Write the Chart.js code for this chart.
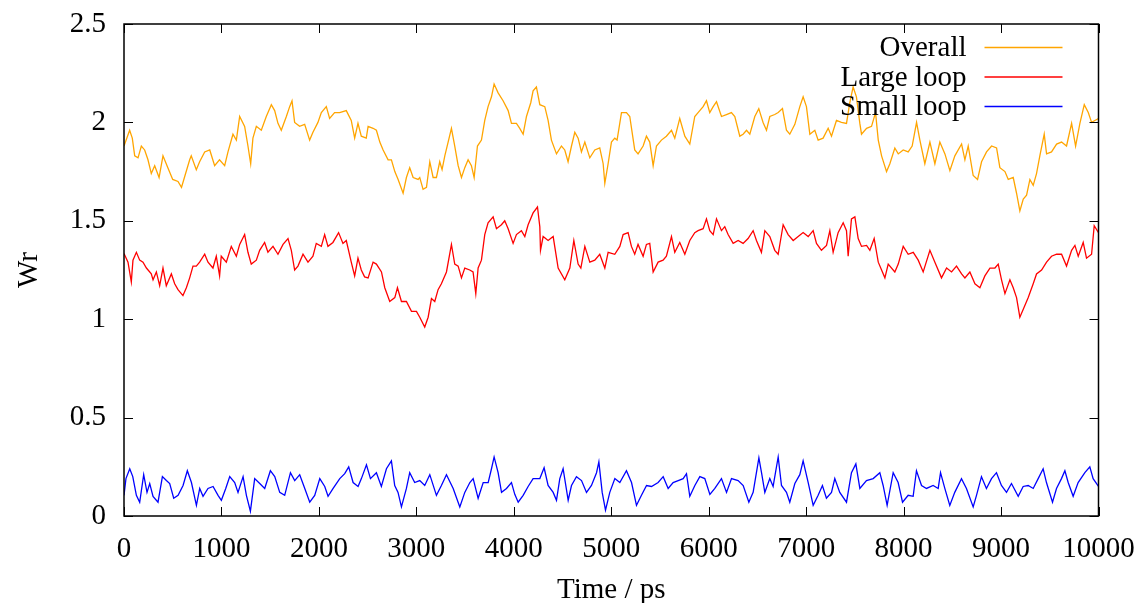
<!DOCTYPE html>
<html>
<head>
<meta charset="utf-8">
<script src="https://cdn.jsdelivr.net/npm/chart.js@4.4.1/dist/chart.umd.min.js"></script>
<style>
  html, body { margin: 0; padding: 0; background: #fff; }
  #wrap { width: 1136px; height: 603px; }
</style>
</head>
<body>
<div id="wrap"><canvas id="wr-chart" width="1136" height="603"></canvas></div>
<script>
// Writhe over time, three curves
const seriesNames = ['Overall', 'Large loop', 'Small loop'];
const seriesColors = ['#ffa500', '#ff0000', '#0000ff'];

const xTicks = [0, 1000, 2000, 3000, 4000, 5000, 6000, 7000, 8000, 9000, 10000];
const yTicks = [0, 0.5, 1, 1.5, 2, 2.5];

const overallTime = [0, 58, 85, 110, 144, 178, 212, 246, 280, 315, 360, 400, 450, 500, 554, 590, 620, 674, 690, 742, 776, 828, 880, 930, 980,
  1033, 1067, 1118, 1153, 1187, 1238, 1272, 1300, 1323, 1358, 1409, 1460, 1512, 1546, 1580, 1614, 1666, 1700, 1724, 1751, 1802, 1854, 1905, 1939, 1990,
  2025, 2076, 2110, 2161, 2213, 2281, 2332, 2367, 2401, 2435, 2486, 2505, 2556, 2590, 2625, 2659, 2710, 2744, 2779, 2813, 2864, 2898, 2932, 2967,
  3018, 3035, 3069, 3104, 3138, 3172, 3206, 3240, 3264, 3292, 3326, 3360, 3394, 3429, 3463, 3497, 3531, 3565, 3593, 3627, 3668, 3702, 3736, 3771, 3798, 3839, 3890, 3942, 3976,
  4027, 4061, 4096, 4130, 4174, 4198, 4232, 4267, 4318, 4352, 4386, 4438, 4489, 4523, 4557, 4592, 4626, 4660, 4694, 4729, 4780, 4831, 4882, 4917, 4934, 4968,
  5002, 5036, 5060, 5105, 5156, 5190, 5241, 5275, 5327, 5361, 5395, 5430, 5464, 5515, 5566, 5618, 5652, 5703, 5755, 5806, 5857, 5891, 5943, 5977,
  6011, 6046, 6080, 6131, 6182, 6233, 6268, 6319, 6353, 6388, 6422, 6473, 6514, 6558, 6593, 6627, 6678, 6713, 6757, 6798, 6832, 6884, 6935, 6969,
  7003, 7038, 7089, 7123, 7174, 7226, 7260, 7311, 7362, 7414, 7448, 7482, 7516, 7551, 7568, 7620, 7671, 7712, 7740, 7774, 7825, 7859, 7910, 7945, 7996,
  8047, 8088, 8133, 8167, 8218, 8270, 8321, 8372, 8424, 8475, 8526, 8595, 8629, 8663, 8714, 8759, 8800, 8851, 8903, 8954, 8988,
  9040, 9074, 9125, 9159, 9193, 9228, 9262, 9296, 9330, 9364, 9398, 9443, 9467, 9518, 9570, 9621, 9672, 9724, 9765, 9809, 9854, 9895, 9929, 10000];
const overall = [1.88, 1.96, 1.92, 1.83, 1.82, 1.88, 1.86, 1.81, 1.74, 1.78, 1.72, 1.83, 1.77, 1.71, 1.70, 1.67, 1.72, 1.81, 1.83, 1.76, 1.80, 1.85, 1.86, 1.78, 1.81,
  1.78, 1.85, 1.94, 1.91, 2.03, 1.98, 1.88, 1.79, 1.92, 1.98, 1.96, 2.03, 2.09, 2.06, 1.995, 1.96, 2.03, 2.08, 2.11, 2.00, 1.98, 1.99, 1.91, 1.95, 2.00,
  2.05, 2.08, 2.02, 2.05, 2.05, 2.06, 2.01, 1.92, 1.995, 1.93, 1.92, 1.98, 1.97, 1.96, 1.90, 1.86, 1.81, 1.81, 1.75, 1.71, 1.64, 1.72, 1.77, 1.72,
  1.71, 1.72, 1.66, 1.67, 1.80, 1.72, 1.72, 1.80, 1.76, 1.83, 1.90, 1.97, 1.88, 1.78, 1.72, 1.77, 1.81, 1.78, 1.72, 1.88, 1.91, 2.01, 2.08, 2.13, 2.195, 2.15, 2.11, 2.06, 1.995,
  1.995, 1.97, 1.94, 2.03, 2.10, 2.16, 2.18, 2.09, 2.08, 2.01, 1.91, 1.84, 1.88, 1.86, 1.80, 1.88, 1.95, 1.92, 1.85, 1.90, 1.82, 1.86, 1.87, 1.79, 1.69, 1.79,
  1.90, 1.92, 1.91, 2.05, 2.05, 2.03, 1.86, 1.84, 1.88, 1.93, 1.90, 1.78, 1.88, 1.91, 1.93, 1.96, 1.92, 2.02, 1.93, 1.89, 2.03, 2.05, 2.08, 2.11,
  2.05, 2.08, 2.105, 2.03, 2.04, 2.05, 2.03, 1.93, 1.94, 1.96, 1.94, 2.03, 2.07, 2.00, 1.96, 2.03, 2.04, 2.05, 2.07, 1.96, 1.94, 1.99, 2.08, 2.13,
  2.08, 1.94, 1.96, 1.91, 1.92, 1.97, 1.93, 2.01, 2.00, 1.995, 2.10, 2.18, 2.13, 1.995, 1.94, 1.97, 1.98, 2.05, 1.91, 1.83, 1.75, 1.79, 1.87, 1.84, 1.86,
  1.85, 1.88, 2.00, 1.91, 1.79, 1.90, 1.79, 1.90, 1.84, 1.755, 1.83, 1.89, 1.81, 1.88, 1.73, 1.71, 1.80, 1.85, 1.88, 1.87, 1.77,
  1.75, 1.71, 1.72, 1.64, 1.55, 1.61, 1.63, 1.71, 1.68, 1.74, 1.83, 1.94, 1.84, 1.85, 1.89, 1.90, 1.88, 1.995, 1.88, 1.995, 2.09, 2.05, 2.00, 2.02];

const largeTime = [0, 41, 75, 92, 127, 161, 195, 230, 280, 298, 332, 366, 400, 434, 486, 520, 554, 605, 640, 674, 708, 742, 776, 828, 862, 913, 947, 981, 998,
  1050, 1101, 1153, 1187, 1238, 1272, 1306, 1358, 1392, 1443, 1477, 1529, 1580, 1632, 1683, 1717, 1751, 1785, 1837, 1888, 1939, 1973,
  2025, 2059, 2093, 2144, 2202, 2247, 2281, 2332, 2367, 2401, 2435, 2469, 2505, 2556, 2590, 2642, 2676, 2727, 2779, 2806, 2847, 2898, 2950,
  3001, 3035, 3086, 3121, 3155, 3189, 3223, 3257, 3309, 3360, 3394, 3429, 3463, 3497, 3548, 3582, 3610, 3634, 3668, 3702, 3736, 3788, 3822, 3873, 3907, 3942, 3993,
  4027, 4078, 4113, 4147, 4198, 4243, 4267, 4274, 4301, 4352, 4404, 4455, 4523, 4575, 4616, 4660, 4688, 4729, 4780, 4831, 4882, 4934, 4968,
  5036, 5088, 5122, 5173, 5207, 5241, 5275, 5327, 5361, 5395, 5430, 5481, 5532, 5566, 5618, 5652, 5703, 5755, 5806, 5857, 5891, 5943, 5977,
  6011, 6046, 6080, 6131, 6165, 6199, 6251, 6302, 6353, 6404, 6456, 6490, 6541, 6576, 6627, 6678, 6713, 6764, 6815, 6867, 6918, 6969,
  7021, 7072, 7106, 7157, 7209, 7243, 7277, 7328, 7380, 7414, 7431, 7465, 7500, 7534, 7568, 7620, 7654, 7698, 7740, 7808, 7842, 7910, 7945, 7996,
  8047, 8099, 8150, 8201, 8270, 8321, 8389, 8441, 8492, 8543, 8595, 8629, 8680, 8732, 8783, 8834, 8886, 8937, 8971,
  9005, 9040, 9091, 9125, 9159, 9193, 9228, 9279, 9330, 9364, 9416, 9467, 9518, 9570, 9621, 9672, 9724, 9758, 9792, 9843, 9877, 9929, 9956, 10000];
const largeLoop = [1.334, 1.29, 1.19, 1.30, 1.34, 1.30, 1.29, 1.26, 1.23, 1.20, 1.24, 1.17, 1.26, 1.17, 1.23, 1.18, 1.15, 1.12, 1.16, 1.21, 1.27, 1.27, 1.29, 1.33, 1.29, 1.26, 1.32, 1.22, 1.32,
  1.29, 1.37, 1.32, 1.38, 1.43, 1.34, 1.28, 1.30, 1.35, 1.39, 1.34, 1.37, 1.33, 1.38, 1.41, 1.35, 1.25, 1.27, 1.33, 1.29, 1.32, 1.385,
  1.37, 1.43, 1.37, 1.39, 1.44, 1.385, 1.40, 1.29, 1.22, 1.31, 1.25, 1.215, 1.21, 1.29, 1.28, 1.24, 1.16, 1.09, 1.11, 1.16, 1.09, 1.09, 1.04,
  1.04, 1.01, 0.96, 1.01, 1.105, 1.09, 1.15, 1.18, 1.24, 1.38, 1.28, 1.27, 1.21, 1.26, 1.25, 1.24, 1.13, 1.26, 1.30, 1.43, 1.49, 1.52, 1.46, 1.48, 1.50, 1.46, 1.385,
  1.43, 1.45, 1.42, 1.48, 1.54, 1.57, 1.47, 1.35, 1.42, 1.40, 1.42, 1.26, 1.20, 1.26, 1.40, 1.28, 1.26, 1.37, 1.29, 1.30, 1.33, 1.26, 1.34,
  1.33, 1.37, 1.43, 1.44, 1.37, 1.33, 1.38, 1.32, 1.38, 1.385, 1.24, 1.29, 1.30, 1.32, 1.42, 1.34, 1.39, 1.33, 1.40, 1.44, 1.45, 1.46, 1.51,
  1.45, 1.43, 1.51, 1.45, 1.47, 1.43, 1.385, 1.40, 1.385, 1.41, 1.45, 1.40, 1.34, 1.45, 1.42, 1.35, 1.33, 1.48, 1.43, 1.40, 1.42, 1.44,
  1.42, 1.45, 1.385, 1.35, 1.375, 1.45, 1.34, 1.44, 1.49, 1.45, 1.32, 1.51, 1.52, 1.41, 1.37, 1.375, 1.35, 1.41, 1.29, 1.21, 1.28, 1.24, 1.28, 1.37,
  1.33, 1.34, 1.30, 1.24, 1.35, 1.29, 1.21, 1.26, 1.24, 1.27, 1.23, 1.21, 1.24, 1.18, 1.16, 1.22, 1.26, 1.26, 1.28,
  1.20, 1.13, 1.20, 1.16, 1.11, 1.01, 1.05, 1.11, 1.18, 1.23, 1.25, 1.29, 1.32, 1.33, 1.33, 1.27, 1.35, 1.375, 1.32, 1.39, 1.31, 1.33, 1.475, 1.44];

const smallTime = [0, 20, 59, 90, 127, 161, 202, 236, 264, 298, 349, 394, 435, 469, 510, 555, 606, 650, 692, 743, 777, 811, 862, 914, 965, 999,
  1044, 1085, 1136, 1170, 1222, 1256, 1297, 1341, 1393, 1444, 1502, 1547, 1598, 1649, 1708, 1752, 1803, 1855, 1906, 1957,
  2009, 2060, 2094, 2146, 2214, 2265, 2306, 2351, 2402, 2436, 2488, 2529, 2590, 2641, 2693, 2744, 2778, 2812, 2847, 2898, 2932, 2983,
  3035, 3086, 3138, 3206, 3257, 3309, 3378, 3446, 3497, 3549, 3583, 3634, 3686, 3737, 3771, 3798, 3839, 3874, 3925, 3976,
  4010, 4045, 4096, 4147, 4198, 4267, 4311, 4352, 4404, 4438, 4472, 4506, 4558, 4592, 4643, 4695, 4746, 4797, 4849, 4873, 4907, 4941, 4985,
  5037, 5088, 5156, 5208, 5259, 5310, 5362, 5413, 5481, 5533, 5584, 5635, 5687, 5738, 5772, 5806, 5858, 5909, 5960,
  6012, 6063, 6131, 6183, 6234, 6302, 6354, 6412, 6456, 6515, 6542, 6576, 6627, 6661, 6713, 6747, 6798, 6832, 6884, 6935, 6969,
  7021, 7072, 7123, 7167, 7208, 7260, 7294, 7345, 7414, 7465, 7510, 7551, 7619, 7688, 7756, 7790, 7831, 7893, 7944, 7989,
  8047, 8098, 8132, 8184, 8235, 8303, 8355, 8379, 8423, 8474, 8525, 8594, 8645, 8714, 8748, 8799, 8850, 8902, 8953, 9004,
  9056, 9107, 9176, 9227, 9278, 9330, 9381, 9432, 9466, 9528, 9569, 9620, 9655, 9689, 9740, 9791, 9860, 9911, 9945, 10000];
const smallLoop = [0.105, 0.19, 0.24, 0.20, 0.105, 0.07, 0.21, 0.12, 0.165, 0.10, 0.07, 0.20, 0.18, 0.165, 0.09, 0.105, 0.155, 0.23, 0.17, 0.054, 0.14, 0.10, 0.14, 0.15, 0.105, 0.08,
  0.14, 0.20, 0.17, 0.12, 0.20, 0.105, 0.024, 0.19, 0.165, 0.14, 0.23, 0.20, 0.12, 0.105, 0.22, 0.18, 0.21, 0.14, 0.07, 0.105,
  0.19, 0.15, 0.10, 0.14, 0.19, 0.215, 0.25, 0.17, 0.15, 0.19, 0.26, 0.19, 0.22, 0.15, 0.24, 0.28, 0.155, 0.12, 0.046, 0.14, 0.22, 0.17,
  0.18, 0.155, 0.21, 0.105, 0.155, 0.21, 0.14, 0.046, 0.12, 0.17, 0.19, 0.09, 0.17, 0.17, 0.24, 0.30, 0.22, 0.12, 0.14, 0.17,
  0.11, 0.07, 0.105, 0.15, 0.19, 0.19, 0.245, 0.155, 0.12, 0.08, 0.19, 0.24, 0.08, 0.155, 0.20, 0.18, 0.12, 0.155, 0.22, 0.275, 0.12, 0.03, 0.12,
  0.19, 0.17, 0.23, 0.17, 0.054, 0.105, 0.155, 0.15, 0.17, 0.20, 0.14, 0.17, 0.18, 0.19, 0.215, 0.10, 0.155, 0.20, 0.19,
  0.11, 0.14, 0.19, 0.12, 0.19, 0.18, 0.155, 0.07, 0.12, 0.295, 0.22, 0.12, 0.19, 0.15, 0.30, 0.155, 0.12, 0.07, 0.165, 0.21, 0.28,
  0.17, 0.054, 0.105, 0.155, 0.09, 0.12, 0.19, 0.12, 0.07, 0.22, 0.265, 0.14, 0.18, 0.19, 0.22, 0.155, 0.054, 0.22, 0.17, 0.07,
  0.105, 0.10, 0.23, 0.155, 0.14, 0.155, 0.14, 0.22, 0.14, 0.054, 0.12, 0.19, 0.14, 0.046, 0.105, 0.20, 0.14, 0.19, 0.22, 0.155,
  0.12, 0.165, 0.10, 0.15, 0.155, 0.14, 0.19, 0.24, 0.17, 0.07, 0.14, 0.19, 0.23, 0.17, 0.10, 0.17, 0.22, 0.25, 0.19, 0.15];

const FONT = '"Liberation Serif", "DejaVu Serif", serif';
const FONT_SIZE = 29;

function toPoints(times, values) {
  return times.map((t, i) => ({ x: t, y: values[i] }));
}

// labels may hang over the plot edges, so the scales keep no extra room for them
function fixedSize(prop, size) {
  return s => {
    s[prop] = size;
    s.paddingTop = 0;
    s.paddingBottom = 0;
    s.paddingLeft = 0;
    s.paddingRight = 0;
  };
}

// gnuplot-like frame: closed border, ticks pointing inwards on all four sides, key in top right
const gnuplotFrame = {
  id: 'gnuplotFrame',
  afterDraw(chart) {
    const { ctx, chartArea: a, scales } = chart;
    const tickLen = 9;
    ctx.save();
    ctx.strokeStyle = '#000';
    ctx.lineWidth = 1;
    ctx.beginPath();
    xTicks.forEach(v => {
      const px = Math.round(scales.x.getPixelForValue(v)) + 0.5;
      ctx.moveTo(px, a.bottom); ctx.lineTo(px, a.bottom - tickLen);
      ctx.moveTo(px, a.top); ctx.lineTo(px, a.top + tickLen);
    });
    yTicks.forEach(v => {
      const py = Math.round(scales.y.getPixelForValue(v)) + 0.5;
      ctx.moveTo(a.left, py); ctx.lineTo(a.left + tickLen, py);
      ctx.moveTo(a.right, py); ctx.lineTo(a.right - tickLen, py);
    });
    ctx.stroke();

    ctx.lineWidth = 1.5;
    ctx.strokeRect(a.left, a.top, a.right - a.left, a.bottom - a.top);

    // key
    ctx.font = FONT_SIZE + 'px ' + FONT;
    ctx.textAlign = 'right';
    ctx.textBaseline = 'middle';
    chart.data.datasets.forEach((ds, i) => {
      const y = a.top + 23.5 + i * 29.5;
      ctx.fillStyle = '#000';
      ctx.fillText(ds.label, a.right - 132, y + 1);
      ctx.strokeStyle = ds.borderColor;
      ctx.lineWidth = 1.3;
      ctx.beginPath();
      ctx.moveTo(a.right - 114, y);
      ctx.lineTo(a.right - 36, y);
      ctx.stroke();
    });
    ctx.restore();
  }
};

const allTimes = [overallTime, largeTime, smallTime];
const allValues = [overall, largeLoop, smallLoop];

const ctx = document.getElementById('wr-chart').getContext('2d');
const chart = new Chart(ctx, {
  type: 'line',
  data: {
    datasets: seriesNames.map((name, i) => ({
      label: name,
      data: toPoints(allTimes[i], allValues[i]),
      borderColor: seriesColors[i],
      borderWidth: 1.3,
      pointRadius: 0,
      tension: 0,
      fill: false
    }))
  },
  options: {
    responsive: false,
    animation: false,
    events: [],
    layout: { padding: { top: 24, right: 37.5, left: 0, bottom: 0 } },
    plugins: {
      legend: { display: false },
      tooltip: { enabled: false }
    },
    scales: {
      x: {
        type: 'linear',
        min: 0,
        max: 10000,
        afterBuildTicks: s => { s.ticks = xTicks.map(v => ({ value: v })); },
        afterFit: fixedSize('height', 87),
        grid: { display: false, drawTicks: false },
        border: { display: false },
        ticks: {
          color: '#000',
          padding: 16,
          maxRotation: 0,
          font: { family: FONT, size: FONT_SIZE },
          callback: v => String(v)
        },
        title: {
          display: true,
          text: 'Time / ps',
          color: '#000',
          padding: { top: 0, bottom: -5 },
          font: { family: FONT, size: FONT_SIZE }
        }
      },
      y: {
        min: 0,
        max: 2.5,
        afterBuildTicks: s => { s.ticks = yTicks.map(v => ({ value: v })); },
        afterFit: fixedSize('width', 124),
        grid: { display: false, drawTicks: false },
        border: { display: false },
        ticks: {
          color: '#000',
          padding: 18,
          font: { family: FONT, size: FONT_SIZE },
          callback: v => String(v)
        },
        title: {
          display: true,
          text: 'Wr',
          color: '#000',
          padding: { top: 12, bottom: 0 },
          font: { family: FONT, size: FONT_SIZE }
        }
      }
    }
  },
  plugins: [gnuplotFrame]
});
</script>
</body>
</html>
